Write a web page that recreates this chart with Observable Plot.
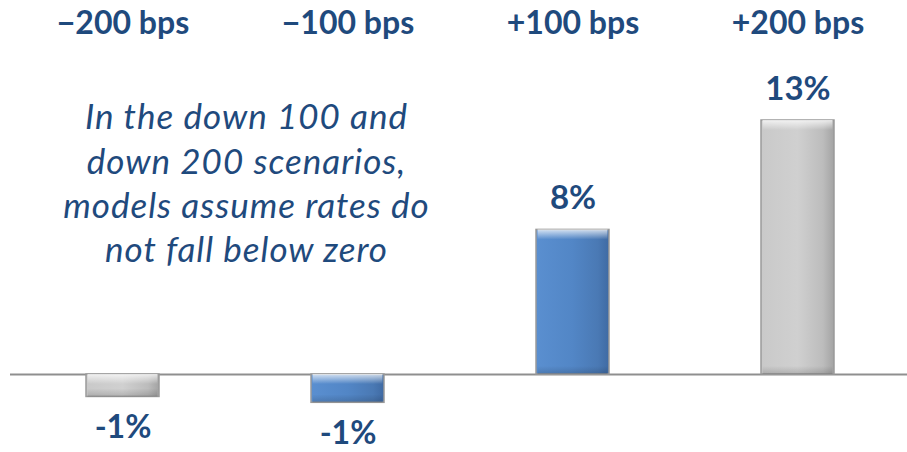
<!DOCTYPE html>
<html>
<head>
<meta charset="utf-8">
<script src="https://cdn.jsdelivr.net/npm/d3@7"></script>
<script src="https://cdn.jsdelivr.net/npm/@observablehq/plot@0.6"></script>
<style>
  html, body { margin: 0; padding: 0; background: #ffffff; }
  #chart { width: 907px; height: 452px; overflow: hidden; }
</style>
</head>
<body>
<div id="chart"></div>
<script>
const categories = ["−200 bps", "−100 bps", "+100 bps", "+200 bps"];
const values = [-1.15, -1.45, 7.4, 13.0];
const valueLabels = ["-1%", "-1%", "8%", "13%"];
const barKinds = ["neutral", "accent", "accent", "neutral"];
const annotationLines = [
  "In the down 100 and",
  "down 200 scenarios,",
  "models assume rates do",
  "not fall below zero"
];

const data = categories.map((cat, i) => ({
  cat, value: values[i], label: valueLabels[i], kind: barKinds[i]
}));

const navy = "#1f4a7d";

const chart = Plot.plot({
  width: 907,
  height: 452,
  marginLeft: 10,
  marginRight: 0,
  marginTop: 0,
  marginBottom: 0,
  style: { fontFamily: "Lato, 'Open Sans', sans-serif", background: "#ffffff" },
  x: { domain: categories, range: [10, 910.5], paddingInner: 0.676, paddingOuter: 0.335, axis: null },
  y: { domain: [-3, 16], range: [432.6, 61.4], axis: null },
  color: { type: "ordinal", domain: ["neutral", "accent"], range: ["url(#gGray)", "url(#gBlue)"] },
  marks: [
    Plot.ruleY([0], { stroke: "#8f8f8f", strokeWidth: 2 }),
    Plot.barY(data, { x: "cat", y: "value", fill: "kind", stroke: "#9a9a9a", strokeWidth: 1.5 }),
    // top bevel highlight
    Plot.barY(data, { x: "cat", y1: d => Math.max(d.value, 0), y2: d => Math.max(d.value, 0),
      insetBottom: -10, insetLeft: 1.5, insetRight: 1.5, fill: "url(#gTop)" }),
    // bottom bevel shadow
    Plot.barY(data, { x: "cat", y1: d => Math.min(d.value, 0), y2: d => Math.min(d.value, 0),
      insetTop: -8, insetLeft: 1.5, insetRight: 1.5, fill: "url(#gBottom)" }),
    Plot.text(data, { x: "cat", text: "cat", frameAnchor: "top", lineAnchor: "middle", dy: 23,
      fontSize: 32, fontWeight: "bold", fill: navy, style: "letter-spacing: 1px" }),
    Plot.text(data, { filter: d => d.value >= 0, x: "cat", y: "value", text: "label",
      lineAnchor: "middle", dy: -31, fontSize: 33, fontWeight: "bold", fill: navy }),
    Plot.text(data, { filter: d => d.value < 0, x: "cat", y: "value", text: "label",
      lineAnchor: "middle", dy: 31, fontSize: 32, fontWeight: "bold", fill: navy }),
    Plot.text([annotationLines.join("\n")], { text: d => d, frameAnchor: "top-left", dx: 236, dy: 181,
      textAnchor: "middle", lineAnchor: "middle", lineHeight: 1.27, fontSize: 35,
      fontStyle: "italic", fill: navy })
  ]
});

chart.insertAdjacentHTML("afterbegin", `
<defs>
  <linearGradient id="gGray" x1="0" x2="1" y1="0" y2="0">
    <stop offset="0" stop-color="#c9c9c9"/>
    <stop offset="0.5" stop-color="#d0d0d0"/>
    <stop offset="0.85" stop-color="#bcbcbc"/>
    <stop offset="1" stop-color="#a3a3a3"/>
  </linearGradient>
  <linearGradient id="gBlue" x1="0" x2="1" y1="0" y2="0">
    <stop offset="0" stop-color="#5a8fd0"/>
    <stop offset="0.5" stop-color="#5286c6"/>
    <stop offset="0.85" stop-color="#4a79b4"/>
    <stop offset="1" stop-color="#3f6aa3"/>
  </linearGradient>
  <linearGradient id="gTop" x1="0" x2="0" y1="0" y2="1">
    <stop offset="0" stop-color="#ffffff" stop-opacity="0.75"/>
    <stop offset="1" stop-color="#ffffff" stop-opacity="0"/>
  </linearGradient>
  <linearGradient id="gBottom" x1="0" x2="0" y1="0" y2="1">
    <stop offset="0" stop-color="#000000" stop-opacity="0"/>
    <stop offset="1" stop-color="#000000" stop-opacity="0.15"/>
  </linearGradient>
</defs>`);

chart.querySelectorAll("text").forEach(t => {
  if (t.getAttribute("font-style") === "italic" || (t.parentNode && t.parentNode.getAttribute && t.parentNode.getAttribute("font-style") === "italic")) {
    t.style.letterSpacing = "1px";
  }
});

document.getElementById("chart").appendChild(chart);
</script>
</body>
</html>
